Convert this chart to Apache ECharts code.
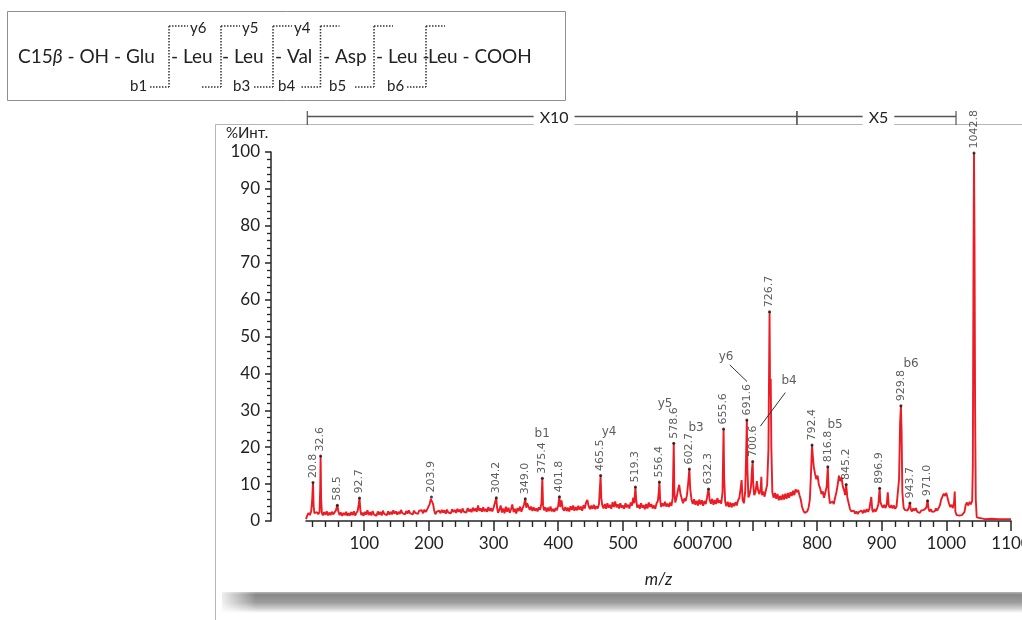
<!DOCTYPE html>
<html>
<head>
<meta charset="utf-8">
<script src="https://cdn.jsdelivr.net/npm/echarts@6/dist/echarts.min.js"></script>
<style>
  html, body { margin: 0; padding: 0; background: #fff; }
  #chart { width: 1022px; height: 620px; }
</style>
</head>
<body>
<div id="chart"></div>
<script>
// m/z, relative intensity (%)
const spectrum = [
  [10,0.5],[12,1.5],[14,2.2],[16,1.6],[18,2.6],[19.5,5.5],[20.8,10.4],[21.8,4],[23,2.1],[25,1.6],[27,2.4],[29,1.8],[31,2.5],[32,9],[32.6,17.6],[33.4,6],[34.5,2.2],
  [36,1.5],[38,2.4],[40,1.7],[42,2.6],[44,1.5],[46,2.3],[48,1.6],[50,2.5],[52,1.8],[54,2.2],[56,2.8],[58.5,4.3],[60,2.6],[62,1.6],[64,2.3],[66,1.4],[68,2.2],
  [70,1.6],[72,2.5],[74,1.4],[76,2.1],[78,1.5],[80,2.4],[82,1.6],[84,2.6],[86,1.5],[88,2.2],[90,2.8],[91.5,4.5],[92.7,6.2],[94,3],[95.5,1.6],[97,2.3],[99,1.4],
  [101,2.5],[103,1.7],[105,2.9],[107,1.6],[109,2.4],[111,1.5],[113,2.7],[115,1.8],[117,2.3],[119,1.4],[121,2.6],[123,1.7],[125,2.5],[127,1.5],[129,2.8],[131,1.9],
  [133,2.4],[135,1.6],[137,2.6],[139,1.7],[141,2.5],[143,1.8],[145,2.9],[147,2.0],[149,2.6],[151,1.7],[153,2.5],[155,1.9],[157,3.0],[159,2.1],[161,2.6],[163,1.8],
  [165,2.7],[167,2.0],[169,2.9],[171,2.1],[173,2.6],[175,1.8],[177,2.8],[179,2.2],[181,2.6],[183,1.9],[185,2.8],[187,2.3],[189,2.9],[191,2.1],[193,3.1],[195,2.4],
  [197,3.0],[199,3.4],[201,4.5],[203,6.0],[203.9,6.5],[205,5.5],[206.5,4.6],[208,3.0],[210,1.8],[212,2.5],[214,2.0],[216,2.8],[218,2.1],[220,3.0],[222,2.3],
  [224,2.9],[226,2.0],[228,3.1],[230,2.3],[232,2.8],[234,2.1],[236,3.2],[238,2.4],[240,3.0],[242,2.2],[244,3.3],[246,2.5],[248,3.1],[250,2.2],[252,3.4],[254,2.5],
  [256,3.0],[258,2.3],[260,3.5],[262,2.6],[264,3.2],[266,2.4],[268,3.6],[270,2.7],[272,3.4],[274,2.5],[276,4.2],[278,2.8],[280,3.4],[282,2.5],[284,3.7],[286,2.6],
  [288,3.3],[290,2.5],[292,3.8],[294,2.7],[296,3.5],[298,2.6],[300,3.6],[302,4.0],[304.2,6.3],[305.5,3.5],[307,2.2],[309,3.0],[311,4.2],[313,2.3],[315,3.4],
  [317,2.1],[319,3.9],[321,2.5],[323,3.6],[325,2.2],[327,3.2],[329,4.5],[331,2.4],[333,3.3],[335,2.0],[337,3.5],[339,2.7],[341,3.9],[343,2.5],[345,3.5],[347,4.4],
  [349,6.0],[350.5,3.6],[352,4.8],[354,5.3],[356,3.0],[358,3.9],[360,2.7],[362,3.7],[364,2.8],[366,3.4],[368,2.6],[370,3.7],[372,3.0],[374,4.8],[375.4,11.6],
  [376.5,4.3],[378,2.9],[380,3.7],[382,2.5],[384,3.6],[386,2.7],[388,3.9],[390,2.6],[392,3.3],[394,2.5],[396,3.5],[398,2.9],[400,4.3],[401.8,6.6],[403,3.8],
  [405,5.6],[407,3.4],[409,2.8],[411,3.8],[413,2.7],[415,3.6],[417,2.6],[419,4.0],[421,3.0],[423,4.2],[425,2.8],[427,3.8],[429,2.9],[431,4.1],[433,3.1],[435,3.9],
  [437,2.8],[439,4.3],[441,3.4],[443,5.0],[445,5.7],[447,4.0],[449,3.2],[451,4.2],[453,3.3],[455,4.4],[457,3.2],[459,4.0],[461,3.4],[463,4.6],[465.5,12.3],
  [466.5,6.3],[468,4.3],[470,3.4],[472,4.6],[474,3.3],[476,4.8],[478,3.6],[480,4.4],[482,3.3],[484,5.1],[486,3.8],[488,5.3],[490,3.7],[492,4.5],[494,3.4],
  [496,4.8],[498,3.6],[500,4.2],[502,3.3],[504,4.8],[506,3.7],[508,4.4],[510,3.4],[512,5.0],[514,4.2],[516,6.3],[517.5,4.8],[519.3,9.2],[520.5,5.8],[522,3.6],
  [524,4.4],[526,3.3],[528,4.8],[530,3.6],[532,4.3],[534,3.2],[536,4.6],[538,3.4],[540,5.0],[542,3.8],[544,4.6],[546,3.4],[548,4.2],[550,3.3],[552,4.8],[554,5.4],
  [555.5,8.0],[556.4,10.6],[557.5,5.8],[559,3.8],[561,4.8],[563,4.0],[565,5.2],[567,3.9],[569,4.7],[571,3.8],[573,5.0],[575,4.1],[577,6.3],[578.6,21.1],[579.5,7.8],
  [581,5.0],[583,6.4],[585,8.3],[587,9.8],[589,7.3],[591,6.0],[593,4.8],[595,6.1],[597,5.4],[599,7.0],[601,10.5],[602.7,14.1],[604,8.8],[606,5.8],[608,4.6],
  [610,5.9],[612,4.4],[614,5.5],[616,4.2],[618,5.8],[620,4.5],[622,5.6],[624,4.1],[626,5.4],[628,4.6],[630,6.3],[632.3,8.7],[634,5.8],[636,4.7],[638,6.0],
  [640,4.4],[642,5.7],[644,4.6],[646,6.2],[648,4.9],[650,5.6],[652,4.7],[654,7.8],[655.6,24.9],[656.5,11.8],[658,5.3],[660,4.0],[662,5.2],[664,3.8],[666,5.0],
  [668,3.7],[670,4.8],[672,4.0],[674,5.1],[676,4.2],[678,5.6],[680,6.3],[682,8.8],[683.5,11.1],[685,5.8],[687,4.8],[689,7.8],[690.5,18],[691.6,27.4],[692.5,13.8],
  [694,6.4],[696,7.3],[698,9.3],[699.5,13.8],[700.6,16.1],[701.5,9.8],[703,7.0],[705,7.8],[707,10.8],[709,8.3],[711,7.3],[713,8.8],[714,12.0],[715,7.0],[717,8.0],
  [719,6.6],[721,8.3],[723,9.8],[725,19.5],[726.7,56.7],[727.5,34],[728.5,38.5],[729.5,19.5],[731,7.8],[733,6.3],[735,7.6],[737,6.0],[739,7.3],[741,5.6],[743,6.8],
  [745,5.7],[747,7.2],[749,5.8],[751,7.4],[753,6.0],[755,7.6],[757,6.3],[759,7.8],[761,6.8],[763,8.2],[765,7.0],[767,8.6],[769,7.8],[771,8.4],[773,7.0],[775,5.8],
  [777,3.8],[779,2.8],[781,2.2],[783,2.0],[785,2.6],[787,3.6],[789,5.8],[790.5,11.8],[792.4,20.6],[793.5,17.8],[795,14.8],[797,12.8],[799,11.3],[801,12.3],
  [803,9.8],[805,8.8],[807,7.3],[809,8.0],[811,6.3],[813,6.8],[815,9.3],[816.8,14.7],[818,7.8],[820,4.8],[822,4.3],[824,5.3],[826,4.6],[828,6.3],[830,7.8],
  [832,9.8],[834,12.3],[836,10.8],[838,11.8],[840,9.3],[842,8.3],[843.5,7.0],[845.2,9.9],[847,6.3],[849,4.8],[851,3.3],[853,2.6],[855,2.2],[857,2.8],[859,2.0],
  [861,2.6],[863,1.9],[865,2.5],[867,2.0],[869,2.8],[871,2.1],[873,3.0],[875,2.3],[877,3.2],[879,2.5],[881,3.3],[883,2.8],[884,6.5],[885.5,3.0],[887,2.4],
  [889,3.2],[891,2.6],[893,3.4],[895,4.6],[896.9,8.9],[898,5.2],[900,4.2],[902,3.6],[904,4.4],[906,3.5],[908,4.6],[909.5,7.8],[911,4.2],[913,3.6],[915,4.3],
  [917,3.4],[919,4.2],[921,3.3],[923,3.9],[925,3.6],[927,11.5],[928.5,26.5],[929.8,31.2],[930.8,24.5],[932,7.8],[934,3.6],[936,3.0],[938,3.4],[940,2.8],
  [942,3.6],[943.7,4.9],[945,3.2],[947,2.6],[949,3.4],[951,2.8],[953,3.5],[955,2.5],[957,3.0],[959,2.2],[961,2.8],[963,2.3],[965,3.0],[967,2.6],[969,3.6],
  [971,5.5],[972.5,3.4],[974,2.6],[976,3.2],[978,2.5],[980,3.0],[982,2.6],[984,3.4],[986,2.8],[988,3.0],[990,4.2],[992,5.8],[994,6.6],[996,7.4],[998,6.8],
  [1000,7.6],[1002,6.2],[1004,4.8],[1006,3.8],[1008,4.4],[1010,3.5],[1012,5.0],[1013,8.0],[1014,2.5],[1016,1.6],[1018,1.8],[1020,1.5],[1022,1.9],[1024,1.6],
  [1026,2.0],[1028,2.4],[1030,4.4],[1032,5.0],[1034,4.2],[1036,5.2],[1038,4.5],[1040,5.5],[1041,15],[1042,70],[1042.8,99.7],[1043.6,75],[1044.5,30],[1045.5,6],
  [1047,1.0],[1050,0.6],[1060,0.5],[1070,0.6],[1080,0.5],[1090,0.5],[1100,0.5]
];

// labelled peaks
const peakMz  = [20.8, 32.6, 58.5, 92.7, 203.9, 304.2, 349.0, 375.4, 401.8, 465.5, 519.3, 556.4, 578.6, 602.7,
                 632.3, 655.6, 691.6, 700.6, 726.7, 792.4, 816.8, 845.2, 896.9, 929.8, 943.7, 971.0, 1042.8];
const peakInt = [10.4, 17.6, 4.3, 6.2, 6.5, 6.3, 6.0, 11.6, 6.6, 12.3, 9.2, 10.6, 21.1, 14.1,
                 8.7, 24.9, 27.4, 16.1, 56.7, 20.6, 14.7, 9.9, 8.9, 31.2, 4.9, 5.5, 99.7];

// fragment ion annotations
const ionNames = ['b1', 'y4', 'y5', 'b3', 'y6', 'b4', 'b5', 'b6'];
const ionMz    = [375.1, 478.6, 565.2, 613.1, 659.5, 756.9, 828.0, 945.5];
const ionInt   = [23.6, 24.1, 31.7, 25.2, 44.4, 37.9, 26.0, 42.5];
const leaders  = [[[665.2, 42.3], [691.9, 37.8]], [[751.1, 34.8], [712.5, 25.7]]];

// axis ticks / labels
const majorTicks = [100, 200, 300, 400, 500, 600, 700, 800, 900, 1000, 1100];
const minorTicks = [];
for (let v = 20; v < 1100; v += 20) if (v % 100 !== 0) minorTicks.push(v);
const xLabelPos  = [100, 200, 300, 400, 500, 600, 646, 800, 900, 1000, 1100];
const xLabelText = ['100', '200', '300', '400', '500', '600', '700', '800', '900', '1000', '1100'];

// magnification ranges above the plot
const zoomRanges = [[12, 769, 'X10'], [769, 1015, 'X5']];

// peptide scheme
const residues = [['{n|C15}{i|β}{n| - OH - Glu}', 18], ['- Leu', 171], ['- Leu', 222], ['- Val', 275],
                  ['- Asp', 323], ['- Leu -', 376], ['Leu - COOH', 428]];
const cleavX = [169, 221, 273, 320.5, 374, 426];
const yIons = [['y6', 190], ['y5', 242], ['y4', 294]];
const bIons = [['b1', 130], ['b3', 233], ['b4', 278], ['b5', 329], ['b6', 387]];

const chart = echarts.init(document.getElementById('chart'));
const ink = '#262626';

const option = {
  animation: false,
  backgroundColor: '#fff',
  grid: { left: 306, right: 11, top: 152, bottom: 99, outerBoundsMode: 'none' },
  xAxis: {
    type: 'value', min: 10, max: 1100,
    axisLine: { show: true, onZero: false, lineStyle: { color: ink, width: 1.6 } },
    axisTick: { show: true, customValues: majorTicks, length: 10, lineStyle: { color: ink, width: 1.5 } },
    axisLabel: {
      customValues: xLabelPos, margin: 14, fontFamily: 'Lato', fontSize: 17, color: '#222',
      formatter: v => xLabelText[xLabelPos.indexOf(v)]
    },
    splitLine: { show: false },
    name: 'm/z', nameLocation: 'middle', nameGap: 50,
    nameTextStyle: { fontFamily: 'Lato', fontStyle: 'italic', fontSize: 17, color: '#222' }
  },
  yAxis: {
    type: 'value', min: 0, max: 100, interval: 10, offset: 35,
    axisLine: { show: true, lineStyle: { color: ink, width: 1.5 } },
    axisTick: { show: true, length: 6, lineStyle: { color: ink, width: 1.5 } },
    minorTick: { show: true, splitNumber: 5, length: 4, lineStyle: { color: ink, width: 1.3 } },
    splitLine: { show: false },
    axisLabel: { fontFamily: 'Lato', fontSize: 17, color: '#222', margin: 11 }
  },
  series: [
    {
      type: 'line', data: spectrum, symbol: 'none', z: 2,
      lineStyle: { color: '#ec1c24', width: 1.9 }
    },
    {
      type: 'scatter', z: 4,
      data: peakMz.map((m, i) => [m, peakInt[i]]),
      symbolSize: 3, itemStyle: { color: '#111' },
      label: {
        show: true, position: 'top', distance: 3, rotate: 90, align: 'left', verticalAlign: 'middle',
        fontFamily: 'DejaVu Sans', fontSize: 11, color: '#333',
        formatter: p => p.value[0].toFixed(1)
      }
    },
    {
      type: 'scatter', z: 4,
      data: ionMz.map((m, i) => [m, ionInt[i], ionNames[i]]),
      symbolSize: 0,
      label: {
        show: true, position: 'inside', align: 'center', verticalAlign: 'middle',
        fontFamily: 'DejaVu Sans', fontSize: 12, color: '#333',
        formatter: p => p.value[2]
      }
    },
    ...leaders.map(seg => ({
      type: 'line', data: seg, symbol: 'none', z: 3,
      lineStyle: { color: '#333', width: 1 }
    }))
  ]
};
chart.setOption(option);

// decorations: peptide box, frame, magnification bar, minor x ticks
const dot = { stroke: '#333', lineWidth: 1.5, lineDash: [1.5, 1.5] };
const g = [];
g.push({ type: 'rect', shape: { x: 7.5, y: 11.5, width: 558, height: 89 },
         style: { fill: 'none', stroke: '#8f8f8f', lineWidth: 1 } });
residues.forEach(([t, x]) => g.push({
  type: 'text', x: x, y: 57,
  style: {
    text: t, fill: '#222', fontFamily: 'Lato', fontSize: 19, verticalAlign: 'middle', align: 'left',
    rich: {
      n: { fontFamily: 'Lato', fontSize: 19, fill: '#222' },
      i: { fontFamily: 'Lato', fontSize: 19, fontStyle: 'italic', fill: '#222' }
    }
  }
}));
cleavX.forEach(x => {
  g.push({ type: 'line', shape: { x1: x, y1: 26, x2: x, y2: 87 }, style: dot });
  g.push({ type: 'line', shape: { x1: x, y1: 26, x2: x + 19, y2: 26 }, style: dot });
  g.push({ type: 'line', shape: { x1: x - 19, y1: 87, x2: x, y2: 87 }, style: dot });
});
yIons.forEach(([t, x]) => g.push({ type: 'text', x: x, y: 28,
  style: { text: t, fill: '#222', fontFamily: 'Lato', fontSize: 15, verticalAlign: 'middle' } }));
bIons.forEach(([t, x]) => g.push({ type: 'text', x: x, y: 86,
  style: { text: t, fill: '#222', fontFamily: 'Lato', fontSize: 15, verticalAlign: 'middle' } }));

const axisY = chart.convertToPixel({ yAxisIndex: 0 }, 0);
minorTicks.forEach(v => {
  const x = Math.round(chart.convertToPixel({ xAxisIndex: 0 }, v)) + 0.5;
  g.push({ type: 'line', shape: { x1: x, y1: axisY, x2: x, y2: axisY + 6 }, style: { stroke: ink, lineWidth: 1.4 } });
});

// shadow under the panel
g.push({ type: 'rect', shape: { x: 222, y: 592, width: 800, height: 21 }, z: 0,
  style: { fill: new echarts.graphic.LinearGradient(0, 0, 0, 1, [
    { offset: 0, color: '#b8b8b8' }, { offset: 0.12, color: '#8a8a8a' },
    { offset: 0.5, color: '#9c9c9c' }, { offset: 0.8, color: '#d2d2d2' }, { offset: 1, color: '#ffffff' }]) } });
g.push({ type: 'rect', shape: { x: 216, y: 588, width: 40, height: 28 }, z: 1,
  style: { fill: new echarts.graphic.LinearGradient(0, 0, 1, 0, [
    { offset: 0, color: '#fff' }, { offset: 1, color: 'rgba(255,255,255,0)' }]) } });
g.push({ type: 'line', shape: { x1: 215.5, y1: 124.5, x2: 1022, y2: 124.5 }, style: { stroke: '#b5b5b5', lineWidth: 1 } });
g.push({ type: 'line', shape: { x1: 215.5, y1: 124.5, x2: 215.5, y2: 620 }, z: 5, style: { stroke: '#b5b5b5', lineWidth: 1 } });
g.push({ type: 'text', x: 226, y: 133,
  style: { text: '%Инт.', fill: '#222', fontFamily: 'Lato', fontSize: 15, verticalAlign: 'middle' } });

zoomRanges.forEach(([a, b, t]) => {
  const xa = chart.convertToPixel({ xAxisIndex: 0 }, a);
  const xb = chart.convertToPixel({ xAxisIndex: 0 }, b);
  g.push({ type: 'line', shape: { x1: xa, y1: 116.5, x2: xb, y2: 116.5 }, style: { stroke: '#555', lineWidth: 1.3 } });
  g.push({ type: 'line', shape: { x1: xa, y1: 111, x2: xa, y2: 125 }, style: { stroke: '#555', lineWidth: 1.2 } });
  g.push({ type: 'line', shape: { x1: xb, y1: 111, x2: xb, y2: 125 }, style: { stroke: '#555', lineWidth: 1.2 } });
  g.push({ type: 'text', x: (xa + xb) / 2 + 2, y: 118, z: 10,
    style: { text: t, fill: '#222', fontFamily: 'Lato', fontSize: 16, align: 'center', verticalAlign: 'middle',
             backgroundColor: '#fff', padding: [0, 6] } });
});
chart.setOption({ graphic: g });
</script>
</body>
</html>
